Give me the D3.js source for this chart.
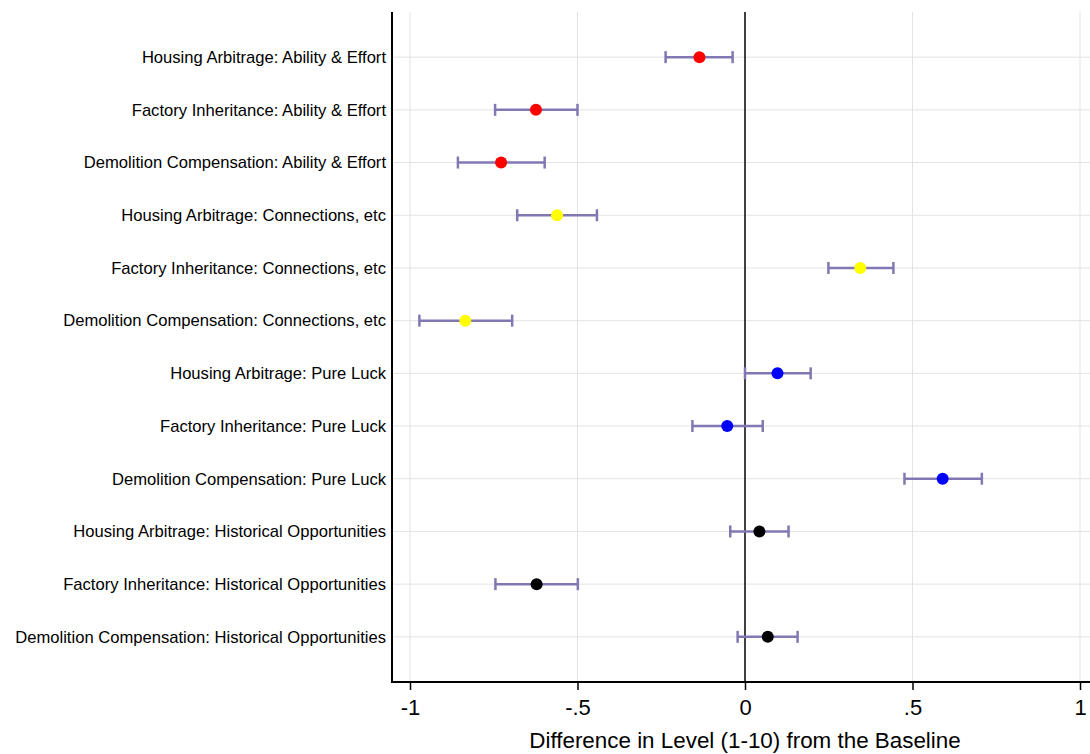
<!DOCTYPE html>
<html>
<head>
<meta charset="utf-8">
<script src="https://cdn.jsdelivr.net/npm/d3@7"></script>
<style>
  html, body { margin: 0; padding: 0; background: #fff; }
  svg { display: block; }
  text { font-family: "Liberation Sans", Arial, Helvetica, sans-serif; fill: #000; }
</style>
</head>
<body>
<svg id="chart" width="1090" height="754"></svg>
<script>
// Coefficient estimates with 95% confidence intervals, one row per scenario x attribution
const labels = [
  "Housing Arbitrage: Ability & Effort",
  "Factory Inheritance: Ability & Effort",
  "Demolition Compensation: Ability & Effort",
  "Housing Arbitrage: Connections, etc",
  "Factory Inheritance: Connections, etc",
  "Demolition Compensation: Connections, etc",
  "Housing Arbitrage: Pure Luck",
  "Factory Inheritance: Pure Luck",
  "Demolition Compensation: Pure Luck",
  "Housing Arbitrage: Historical Opportunities",
  "Factory Inheritance: Historical Opportunities",
  "Demolition Compensation: Historical Opportunities"
];
const estimates = [-0.136, -0.624, -0.728, -0.561, 0.344, -0.835, 0.097, -0.053, 0.590, 0.043, -0.622, 0.068];
const ciLow     = [-0.237, -0.746, -0.857, -0.680, 0.249, -0.972, 0.000, -0.157, 0.476, -0.044, -0.745, -0.022];
const ciHigh    = [-0.037, -0.500, -0.598, -0.442, 0.443, -0.695, 0.196, 0.053, 0.707, 0.130, -0.499, 0.157];
const groups    = ["Ability", "Ability", "Ability", "Connections", "Connections", "Connections",
                   "Luck", "Luck", "Luck", "Historical", "Historical", "Historical"];
const groupNames  = ["Ability", "Connections", "Luck", "Historical"];
const groupColors = ["#ff0000", "#ffff00", "#0000ff", "#000000"];
const xTicks = [-1, -0.5, 0, 0.5, 1];
const xTickLabels = ["-1", "-.5", "0", ".5", "1"];
const xTitle = "Difference in Level (1-10) from the Baseline";

const rows = labels.map((l, i) => ({ label: l, est: estimates[i], lo: ciLow[i], hi: ciHigh[i], group: groups[i] }));

const svg = d3.select("#chart");
const plotLeft = 392, plotRight = 1090, plotTop = 12, plotBottom = 682;

const x = d3.scaleLinear().domain([-1, 1]).range([410, 1080]);
const y = d3.scalePoint().domain(labels).range([plotTop, plotBottom]).padding(0.857);
const color = d3.scaleOrdinal().domain(groupNames).range(groupColors);

// grid
const grid = svg.append("g");
grid.selectAll("line.gx").data(xTicks.filter(t => t !== 0)).join("line")
  .attr("x1", d => x(d)).attr("x2", d => x(d))
  .attr("y1", plotTop).attr("y2", plotBottom)
  .attr("stroke", "#e3e3e3").attr("stroke-width", 1);
grid.selectAll("line.gy").data(labels).join("line")
  .attr("x1", plotLeft).attr("x2", plotRight)
  .attr("y1", d => y(d)).attr("y2", d => y(d))
  .attr("stroke", "#e3e3e3").attr("stroke-width", 1);

// reference line at zero
svg.append("line")
  .attr("x1", x(0)).attr("x2", x(0)).attr("y1", plotTop).attr("y2", plotBottom)
  .attr("stroke", "#111").attr("stroke-width", 1.6);

// confidence intervals
const ciColor = "#8078b2";
const cap = 6;
const ci = svg.append("g");
ci.selectAll("line.ci").data(rows).join("line")
  .attr("x1", d => x(d.lo)).attr("x2", d => x(d.hi))
  .attr("y1", d => y(d.label)).attr("y2", d => y(d.label))
  .attr("stroke", ciColor).attr("stroke-width", 2.5);
ci.selectAll("line.capl").data(rows).join("line")
  .attr("x1", d => x(d.lo)).attr("x2", d => x(d.lo))
  .attr("y1", d => y(d.label) - cap).attr("y2", d => y(d.label) + cap)
  .attr("stroke", ciColor).attr("stroke-width", 2.5);
ci.selectAll("line.caph").data(rows).join("line")
  .attr("x1", d => x(d.hi)).attr("x2", d => x(d.hi))
  .attr("y1", d => y(d.label) - cap).attr("y2", d => y(d.label) + cap)
  .attr("stroke", ciColor).attr("stroke-width", 2.5);

// point estimates
svg.append("g").selectAll("circle").data(rows).join("circle")
  .attr("cx", d => x(d.est)).attr("cy", d => y(d.label)).attr("r", 6)
  .attr("fill", d => color(d.group));

// y axis: category labels
const yAxis = d3.axisLeft(y).tickSize(0).tickPadding(6);
const gy = svg.append("g").attr("transform", `translate(${plotLeft},0)`).call(yAxis);
gy.select(".domain").remove();
gy.selectAll("text").style("font-size", "16.6px").style("font-family", "'Liberation Sans', Arial, sans-serif");
svg.append("line").attr("x1", plotLeft).attr("x2", plotLeft).attr("y1", plotTop).attr("y2", plotBottom + 1)
  .attr("stroke", "#000").attr("stroke-width", 2);

// x axis
const xAxis = d3.axisBottom(x).tickValues(xTicks).tickFormat((d, i) => xTickLabels[i]).tickSize(8).tickPadding(9);
const gx = svg.append("g").attr("transform", `translate(0,${plotBottom})`).call(xAxis);
gx.select(".domain").remove();
gx.selectAll(".tick line").attr("stroke", "#000").attr("stroke-width", 1.5);
gx.selectAll("text").style("font-size", "22px").style("font-family", "'Liberation Sans', Arial, sans-serif");
svg.append("line").attr("x1", plotLeft - 1).attr("x2", plotRight).attr("y1", plotBottom).attr("y2", plotBottom)
  .attr("stroke", "#000").attr("stroke-width", 2);

svg.append("text")
  .attr("x", x(0)).attr("y", 748)
  .attr("text-anchor", "middle")
  .style("font-size", "22.4px")
  .text(xTitle);
</script>
</body>
</html>
